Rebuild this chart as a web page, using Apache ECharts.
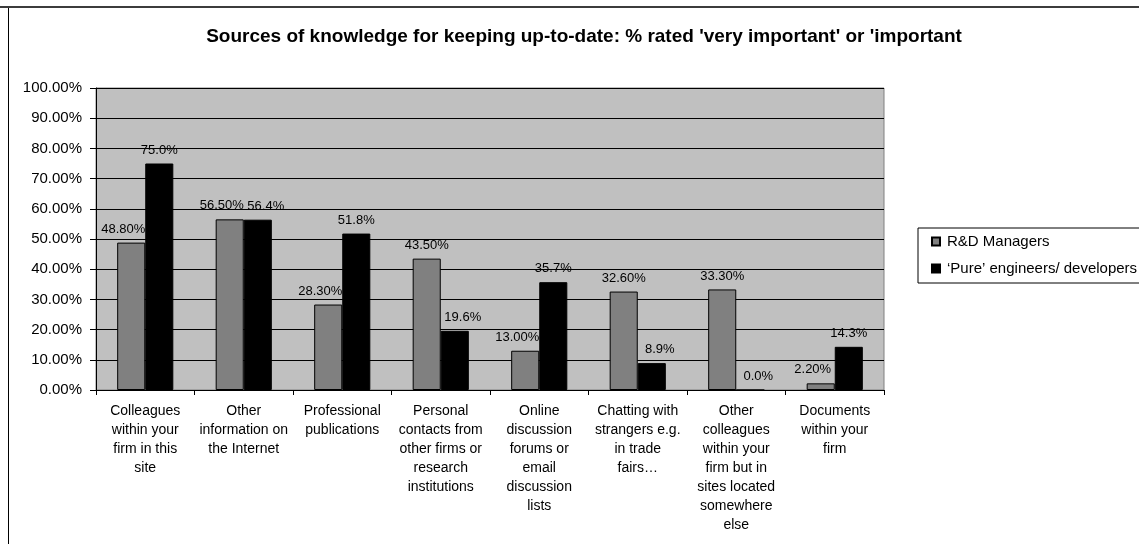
<!DOCTYPE html>
<html>
<head>
<meta charset="utf-8">
<script src="https://cdn.jsdelivr.net/npm/echarts@6/dist/echarts.min.js"></script>
<style>
  html,body{margin:0;padding:0;background:#fff;}
  #main{width:1139px;height:544px;}
</style>
</head>
<body>
<div id="main"></div>
<script>
// categories and values
var categories = [
    "Colleagues\nwithin your\nfirm in this\nsite",
    "Other\ninformation on\nthe Internet",
    "Professional\npublications",
    "Personal\ncontacts from\nother firms or\nresearch\ninstitutions",
    "Online\ndiscussion\nforums or\nemail\ndiscussion\nlists",
    "Chatting with\nstrangers e.g.\nin trade\nfairs\u2026",
    "Other\ncolleagues\nwithin your\nfirm but in\nsites located\nsomewhere\nelse",
    "Documents\nwithin your\nfirm"
];
var rdManagers = [48.8, 56.5, 28.3, 43.5, 13.0, 32.6, 33.3, 2.2];
var pureEngineers = [75.0, 56.4, 51.8, 19.6, 35.7, 8.9, 0.0, 14.3];
var seriesNames = ["R&D Managers", "\u2018Pure\u2019 engineers/ developers"];

var chart = echarts.init(document.getElementById('main'));
var font = 'Arial, "Liberation Sans", sans-serif';

// the label of the lower bar of a pair sits pushed outwards (as in the original)
function buildData(vals, other, dx) {
    return vals.map(function (v, i) {
        if (other[i] >= v - 1) {
            return {value: v, label: {offset: [dx, 0]}};
        }
        return v;
    });
}

var option = {
    animation: false,
    backgroundColor: '#fff',
    title: {
        text: "Sources of knowledge for keeping up-to-date: % rated 'very important' or 'important",
        left: 579,
        textAlign: 'center',
        top: 22,
        textStyle: {fontFamily: font, fontSize: 19, fontWeight: 'bold', color: '#000'}
    },
    legend: {
        orient: 'vertical',
        left: 918,
        top: 228,
        padding: [6, 40, 7, 13],
        itemWidth: 8,
        itemHeight: 8,
        itemGap: 12,
        borderColor: '#000',
        borderWidth: 1,
        icon: 'rect',
        textStyle: {fontFamily: font, fontSize: 15, color: '#000', padding: [0, 0, 0, 2]},
        data: seriesNames
    },
    grid: {left: 96, right: 255, top: 88, bottom: 154, containLabel: false,
        show: true, backgroundColor: '#c0c0c0', borderColor: '#808080', borderWidth: 1},
    xAxis: {
        type: 'category',
        data: categories,
        axisLine: {lineStyle: {color: '#000', width: 1}},
        axisTick: {show: true, length: 5, alignWithLabel: false, lineStyle: {color: '#000'}},
        axisLabel: {
            interval: 0,
            margin: 12,
            fontFamily: font,
            fontSize: 14,
            lineHeight: 19,
            color: '#000',
            align: 'center'
        }
    },
    yAxis: {
        type: 'value',
        min: 0,
        max: 100,
        interval: 10,
        axisLine: {show: true, lineStyle: {color: '#000'}},
        axisTick: {show: true, length: 6, lineStyle: {color: '#000'}},
        splitLine: {show: true, lineStyle: {color: '#000', width: 1}},
        axisLabel: {
            margin: 14,
            fontFamily: font,
            fontSize: 15,
            color: '#000',
            formatter: function (v) { return v.toFixed(2) + '%'; }
        }
    },
    series: [
        {
            name: seriesNames[0],
            type: 'bar',
            data: buildData(rdManagers, pureEngineers, -8),
            barGap: '0%',
            barCategoryGap: '43%',
            itemStyle: {color: '#808080', borderColor: '#000', borderWidth: 1},
            label: {
                show: true, position: 'top', distance: 7,
                fontFamily: font, fontSize: 13, color: '#000',
                formatter: function (p) { return p.value.toFixed(2) + '%'; }
            }
        },
        {
            name: seriesNames[1],
            type: 'bar',
            data: buildData(pureEngineers, rdManagers, 8),
            itemStyle: {color: '#000', borderColor: '#000', borderWidth: 1},
            label: {
                show: true, position: 'top', distance: 7,
                fontFamily: font, fontSize: 13, color: '#000',
                formatter: function (p) { return p.value.toFixed(1) + '%'; }
            }
        }
    ],
    graphic: [
        {type: 'line', shape: {x1: 0, y1: 7, x2: 1139, y2: 7}, style: {stroke: '#3c3c3c', lineWidth: 2}},
        {type: 'line', shape: {x1: 8.5, y1: 8, x2: 8.5, y2: 544}, style: {stroke: '#000', lineWidth: 1}}
    ]
};
chart.setOption(option);
</script>
</body>
</html>
